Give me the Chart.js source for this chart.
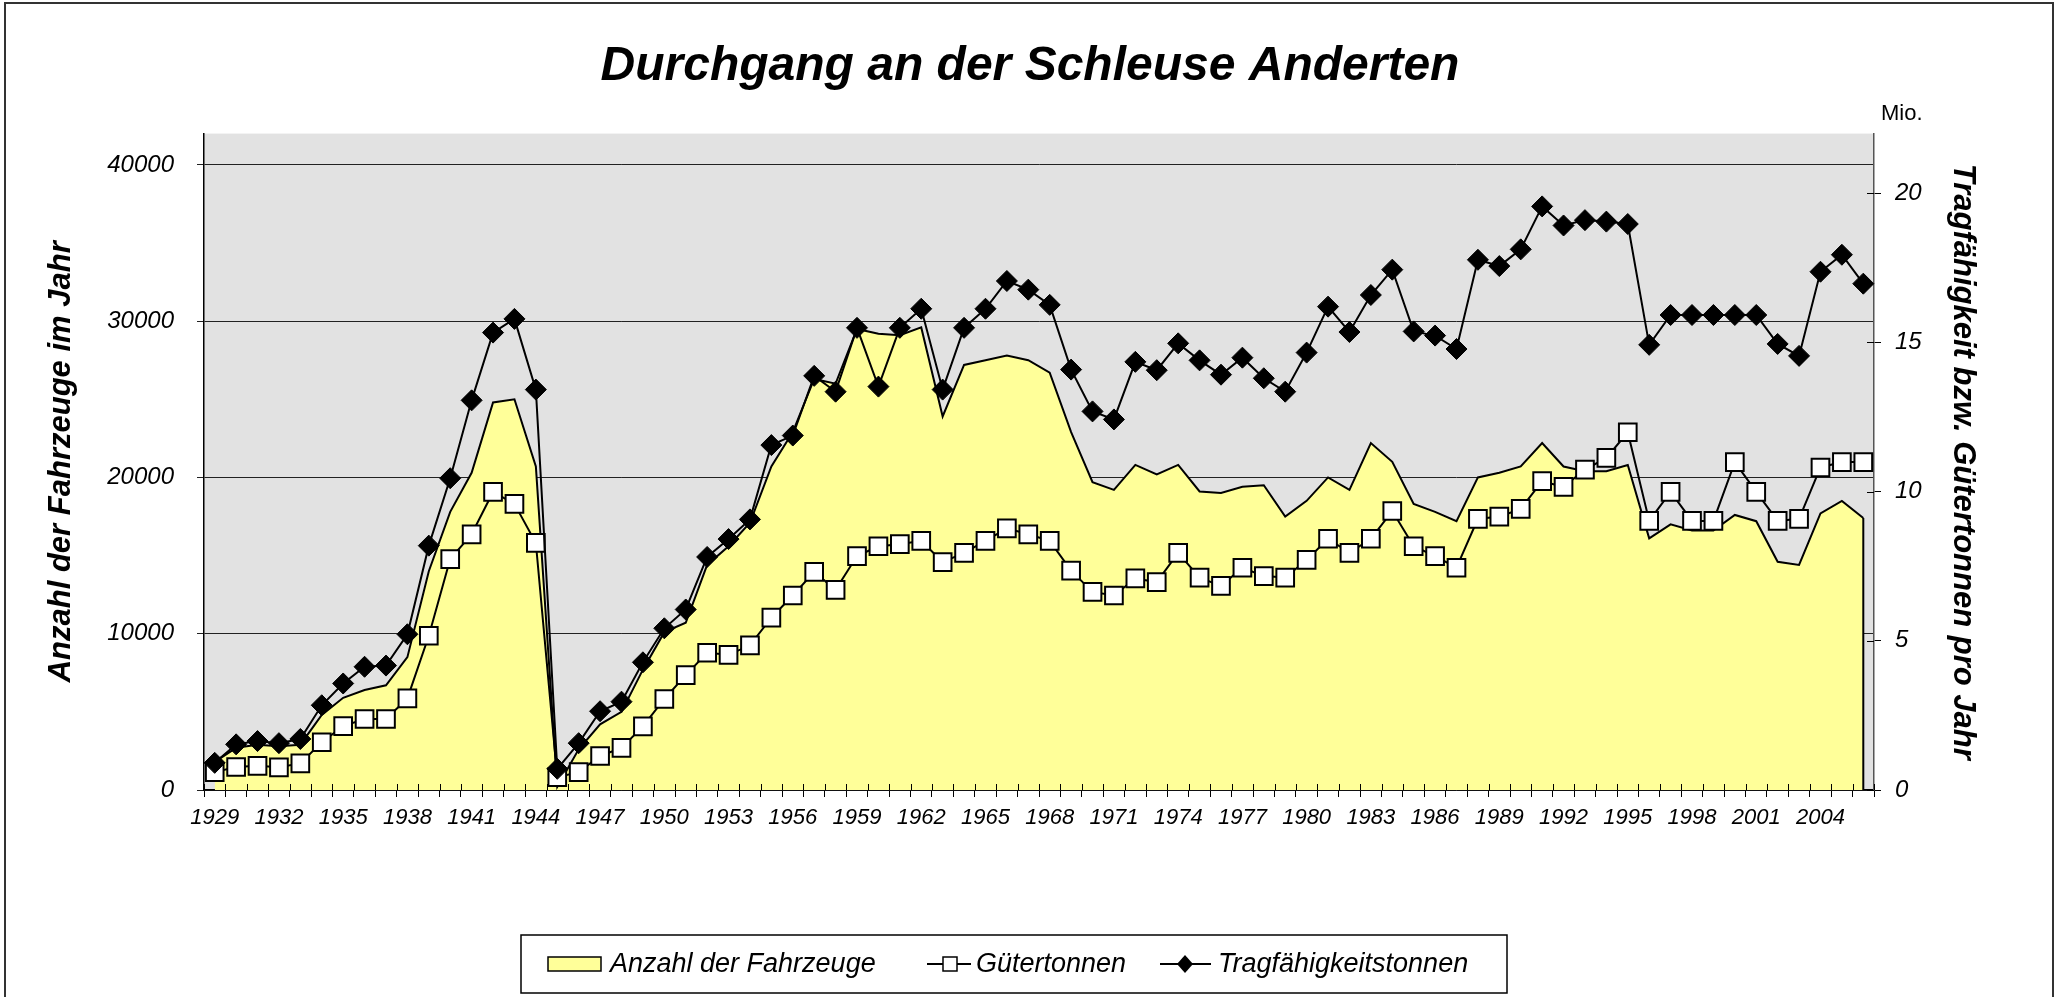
<!DOCTYPE html>
<html lang="de">
<head>
<meta charset="utf-8">
<title>Durchgang an der Schleuse Anderten</title>
<script src="https://cdn.jsdelivr.net/npm/chart.js@4"></script>
<style>
    html, body { margin: 0; padding: 0; background: #fff; }
    #chartSchleuse { display: block; }
</style>
</head>
<body>
<canvas id="chartSchleuse" width="2060" height="997"></canvas>
<script>

// YEARS 1929 - 2006
const years = [];
for (let y = 1929; y <= 2006; y++) years.push(String(y));

// ANZAHL DER FAHRZEUGE (left axis)
const fahrzeuge = [
    1800, 2700, 2900, 2800, 2900, 4800, 5900, 6400, 6700, 8500,
    14000, 17800, 20300, 24800, 25000, 20700, 200, 2600, 4200, 5000,
    7700, 10100, 10700, 14400, 15600, 17100, 20700, 22900, 26300, 26000,
    29500, 29200, 29100, 29600, 23900, 27200, 27500, 27800, 27500, 26700,
    22900, 19700, 19200, 20800, 20200, 20800, 19100, 19000, 19400, 19500,
    17500, 18500, 20000, 19200, 22200, 21000, 18300, 17800, 17200, 20000,
    20300, 20700, 22200, 20700, 20400, 20400, 20800, 16100, 17000, 16600,
    16600, 17600, 17200, 14600, 14400, 17700, 18500, 17400
];

// GUETERTONNEN, Mio. (right axis)
const gueter = [
    0.60, 0.77, 0.81, 0.76, 0.89, 1.60, 2.14, 2.38, 2.38, 3.07,
    5.17, 7.74, 8.57, 9.99, 9.59, 8.28, 0.43, 0.60, 1.14, 1.41,
    2.13, 3.05, 3.85, 4.60, 4.53, 4.85, 5.78, 6.52, 7.31, 6.71,
    7.84, 8.17, 8.24, 8.35, 7.64, 7.95, 8.35, 8.77, 8.57, 8.35,
    7.35, 6.64, 6.52, 7.09, 6.97, 7.95, 7.12, 6.84, 7.45, 7.17,
    7.12, 7.71, 8.42, 7.95, 8.42, 9.35, 8.17, 7.84, 7.45, 9.09,
    9.16, 9.42, 10.35, 10.16, 10.74, 11.13, 11.99, 9.02, 9.99, 9.02,
    9.02, 10.99, 9.99, 9.02, 9.09, 10.81, 10.99, 10.99
];

// TRAGFAEHIGKEITSTONNEN, Mio. (right axis)
const tragfaehigkeit = [
    0.91, 1.53, 1.64, 1.57, 1.71, 2.84, 3.57, 4.13, 4.17, 5.22,
    8.19, 10.45, 13.06, 15.33, 15.79, 13.42, 0.71, 1.57, 2.64, 2.96,
    4.28, 5.42, 6.05, 7.81, 8.41, 9.07, 11.56, 11.88, 13.88, 13.35,
    15.49, 13.52, 15.49, 16.13, 13.42, 15.49, 16.13, 17.06, 16.77, 16.26,
    14.09, 12.69, 12.42, 14.35, 14.07, 14.97, 14.40, 13.92, 14.49, 13.80,
    13.35, 14.66, 16.20, 15.35, 16.59, 17.44, 15.37, 15.23, 14.78, 17.77,
    17.56, 18.12, 19.56, 18.92, 19.10, 19.05, 18.97, 14.92, 15.92, 15.92,
    15.92, 15.92, 15.92, 14.95, 14.55, 17.37, 17.94, 16.97
];

// TICKS
const leftTicks = [0, 10000, 20000, 30000, 40000];
const rightTicks = [0, 5, 10, 15, 20];

const FONT = "'Liberation Sans', Arial, sans-serif";

// background, frame, inner tick halves, legend, "Mio."
const schleusePlugin = {
    id: "schleuse",
    beforeDraw(chart) {
        const { ctx, chartArea: a } = chart;
        ctx.save();
        ctx.fillStyle = "#ffffff";
        ctx.fillRect(0, 0, chart.width, chart.height);
        ctx.fillStyle = "#e2e2e2";
        ctx.fillRect(a.left, a.top, a.right - a.left, a.bottom - a.top);
        ctx.restore();
    },
    afterDatasetsDraw(chart) {
        const { ctx, chartArea: a, scales } = chart;
        ctx.save();
        ctx.strokeStyle = "#000";

        // closing edge of the area at the last year
        const last = fahrzeuge.length - 1;
        const ex = scales.x.getPixelForValue(last);
        ctx.lineWidth = 2;
        ctx.beginPath();
        ctx.moveTo(ex, scales.y.getPixelForValue(fahrzeuge[last]));
        ctx.lineTo(ex, a.bottom);
        ctx.stroke();

        ctx.lineWidth = 1;
        const x = scales.x;
        const step = x.getPixelForValue(1) - x.getPixelForValue(0);
        for (let i = 0; i <= years.length; i++) {
            const px = Math.round(x.getPixelForValue(i) - step / 2) + 0.5;
            ctx.beginPath();
            ctx.moveTo(px, a.bottom - 6);
            ctx.lineTo(px, a.bottom);
            ctx.stroke();
        }
        rightTicks.forEach(v => {
            const py = Math.round(scales.y2.getPixelForValue(v)) + 0.5;
            ctx.beginPath();
            ctx.moveTo(a.right - 7, py);
            ctx.lineTo(a.right, py);
            ctx.stroke();
        });
        ctx.restore();
    },
    afterDraw(chart) {
        const ctx = chart.ctx;
        ctx.save();

        // outer frame
        ctx.strokeStyle = "#333";
        ctx.lineWidth = 2;
        ctx.strokeRect(5, 3, 2048, 1100);

        // Mio.
        ctx.fillStyle = "#000";
        ctx.font = "22px " + FONT;
        ctx.textAlign = "left";
        ctx.textBaseline = "middle";
        ctx.fillText("Mio.", 1881, 114);

        // LEGEND
        ctx.strokeStyle = "#000";
        ctx.lineWidth = 1.5;
        ctx.strokeRect(521, 935, 986, 58);

        const ly = 964;
        ctx.fillStyle = "#ffff99";
        ctx.fillRect(548, 957, 53, 14);
        ctx.strokeRect(548, 957, 53, 14);

        ctx.lineWidth = 2;
        ctx.beginPath();
        ctx.moveTo(927, ly); ctx.lineTo(971, ly);
        ctx.moveTo(1160, ly); ctx.lineTo(1211, ly);
        ctx.stroke();

        ctx.fillStyle = "#fff";
        ctx.lineWidth = 1.5;
        ctx.fillRect(943, ly - 7, 14, 14);
        ctx.strokeRect(943, ly - 7, 14, 14);

        ctx.fillStyle = "#000";
        ctx.beginPath();
        ctx.moveTo(1185, ly - 9); ctx.lineTo(1193, ly);
        ctx.lineTo(1185, ly + 9); ctx.lineTo(1177, ly);
        ctx.closePath();
        ctx.fill();

        ctx.font = "italic 27px " + FONT;
        ctx.textBaseline = "middle";
        ctx.fillText("Anzahl der Fahrzeuge", 610, ly);
        ctx.fillText("Gütertonnen", 976, ly);
        ctx.fillText("Tragfähigkeitstonnen", 1218, ly);

        ctx.restore();
    }
};

function initSchleuseChart() {

    Chart.defaults.font.family = FONT;
    Chart.defaults.color = "#000";

    new Chart(document.getElementById("chartSchleuse"), {
        type: "line",
        data: {
            labels: years,
            datasets: [
                {
                    label: "Tragfähigkeitstonnen",
                    data: tragfaehigkeit,
                    yAxisID: "y2",
                    borderColor: "#000",
                    borderWidth: 2,
                    pointStyle: "rectRot",
                    pointRadius: 10.5,
                    pointBackgroundColor: "#000",
                    pointBorderColor: "#000",
                    pointBorderWidth: 1,
                    fill: false,
                    tension: 0,
                    order: 1
                },
                {
                    label: "Gütertonnen",
                    data: gueter,
                    yAxisID: "y2",
                    borderColor: "#000",
                    borderWidth: 2,
                    pointStyle: "rect",
                    pointRadius: 12.5,
                    pointBackgroundColor: "#fff",
                    pointBorderColor: "#000",
                    pointBorderWidth: 2,
                    fill: false,
                    tension: 0,
                    order: 2
                },
                {
                    label: "Anzahl der Fahrzeuge",
                    data: fahrzeuge,
                    yAxisID: "y",
                    borderColor: "#000",
                    borderWidth: 2,
                    backgroundColor: "#ffff99",
                    pointRadius: 0,
                    fill: "origin",
                    tension: 0,
                    order: 3
                }
            ]
        },
        options: {
            responsive: false,
            animation: false,
            devicePixelRatio: 1,
            layout: { padding: 0 },
            plugins: {
                legend: { display: false },
                tooltip: { enabled: false },
                title: {
                    display: true,
                    text: "Durchgang an der Schleuse Anderten",
                    font: { size: 48, style: "italic", weight: "bold" },
                    color: "#000",
                    padding: { top: 38, bottom: 38 }
                }
            },
            scales: {
                x: {
                    type: "category",
                    offset: true,
                    afterFit: s => { s.height = 207; },
                    border: { display: true, color: "#000", width: 1.5 },
                    grid: {
                        offset: true,
                        drawOnChartArea: false,
                        tickLength: 7,
                        color: "#000"
                    },
                    ticks: {
                        autoSkip: false,
                        maxRotation: 0,
                        minRotation: 0,
                        padding: 8,
                        font: { size: 22, style: "italic" },
                        callback: (val, i) => (i % 3 === 0 ? years[i] : "")
                    }
                },
                y: {
                    position: "left",
                    min: 0,
                    max: 42000,
                    afterFit: s => { s.width = 204; },
                    afterBuildTicks: s => { s.ticks = leftTicks.map(v => ({ value: v })); },
                    border: { display: true, color: "#000", width: 1.5 },
                    grid: { color: "#222", lineWidth: 1, tickLength: 7 },
                    ticks: {
                        padding: 23,
                        font: { size: 24, style: "italic" },
                        callback: v => String(v)
                    },
                    title: {
                        display: true,
                        text: "Anzahl der Fahrzeuge im Jahr",
                        font: { size: 31, style: "italic", weight: "bold" },
                        padding: { top: 43, bottom: 0 }
                    }
                },
                y2: {
                    position: "right",
                    min: 0,
                    max: 22,
                    afterFit: s => { s.width = 186; },
                    afterBuildTicks: s => { s.ticks = rightTicks.map(v => ({ value: v })); },
                    border: { display: true, color: "#555", width: 1.5 },
                    grid: { drawOnChartArea: false, color: "#000", tickLength: 7 },
                    ticks: {
                        padding: 14,
                        font: { size: 24, style: "italic" },
                        callback: v => String(v)
                    },
                    title: {
                        display: true,
                        text: "Tragfähigkeit bzw. Gütertonnen pro Jahr",
                        font: { size: 31, style: "italic", weight: "bold" },
                        padding: { top: 79, bottom: 0 }
                    }
                }
            }
        },
        plugins: [schleusePlugin]
    });
}

initSchleuseChart();
</script>
</body>
</html>
